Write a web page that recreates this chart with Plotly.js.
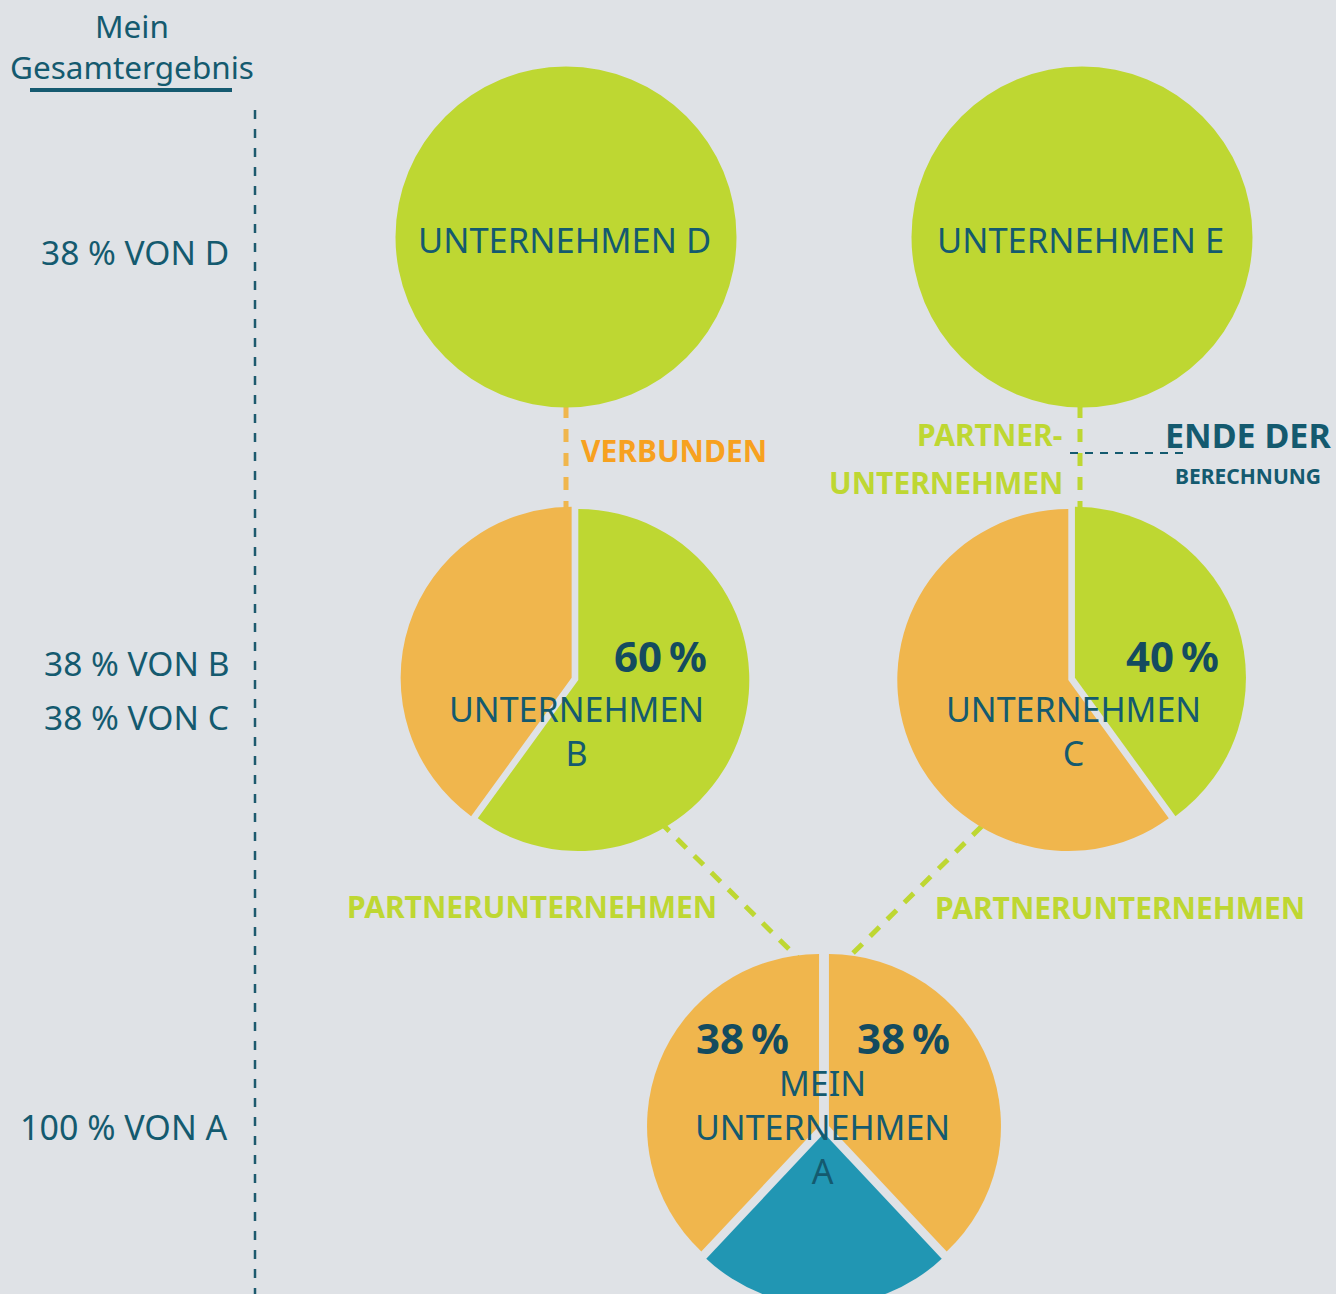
<!DOCTYPE html>
<html>
<head>
<meta charset="utf-8">
<script src="https://cdn.plot.ly/plotly-3.0.1.min.js"></script>
<style>
  html, body { margin: 0; padding: 0; overflow: hidden; background: #dfe2e6; }
  #chart { width: 1336px; height: 1310px; }
</style>
</head>
<body>
<div id="chart"></div>
<script>
// ---------- data ----------
const companyNames = ['UNTERNEHMEN D', 'UNTERNEHMEN E', 'UNTERNEHMEN<br>B', 'UNTERNEHMEN<br>C', 'MEIN<br>UNTERNEHMEN<br>A'];
const sharesD = [100];
const sharesE = [100];
const sharesB = [60, 40];            // green (partner part), orange (rest)
const sharesC = [40, 60];            // green (partner part), orange (rest)
const sharesA = [38, 24, 38];        // orange (B), teal (own), orange (C)
const sliceNamesB = ['Anteil 60 %', 'Rest'];
const sliceNamesC = ['Anteil 40 %', 'Rest'];
const sliceNamesA = ['38 % von B', 'Eigen', '38 % von C'];
const leftLabels = ['38 % VON D', '38 % VON B', '38 % VON C', '100 % VON A'];
const relationLabels = ['VERBUNDEN', 'PARTNER-', 'UNTERNEHMEN', 'PARTNERUNTERNEHMEN', 'PARTNERUNTERNEHMEN'];
const endLabels = ['ENDE DER', 'BERECHNUNG'];
const headerLines = ['Mein', 'Gesamtergebnis'];

// ---------- style ----------
const W = 1336, H = 1310;
const BG = '#dfe2e6';
const GREEN = '#bed732';
const ORANGE = '#f0b64d';
const TEAL = '#2196b3';
const TXT = '#145a6f';
const DARK = '#144b5f';
const ORANGE_TXT = '#f7a11f';
const FONT = 'Noto Sans, Open Sans, sans-serif';

function domainFor(cx, cy, r) {
  return { x: [(cx - r) / W, (cx + r) / W], y: [1 - (cy + r) / H, 1 - (cy - r) / H] };
}
function pie(values, labels, colors, pull, cx, cy, r) {
  const maxPull = Math.max(0, ...(Array.isArray(pull) ? pull : [pull]));
  return {
    type: 'pie', values: values, labels: labels, sort: false, direction: 'clockwise', rotation: 0,
    marker: { colors: colors, line: { width: 0 } }, pull: pull, textinfo: 'none', hoverinfo: 'skip',
    showlegend: false, domain: domainFor(cx, cy, r * (1 + maxPull))
  };
}

const traces = [
  pie(sharesD, ['D'], [GREEN], 0, 566, 237, 170.5),
  pie(sharesE, ['E'], [GREEN], 0, 1082, 237, 170.5),
  pie(sharesB, sliceNamesB, [GREEN, ORANGE], [0, 0.041], 578.3, 680, 171),
  pie(sharesC, sliceNamesC, [GREEN, ORANGE], [0.041, 0], 1068.3, 680, 171),
  pie(sharesA, sliceNamesA, [ORANGE, TEAL, ORANGE], [0.031, 0.031, 0.031], 824, 1128, 172)
];

function ann(text, x, y, size, color, opts) {
  return Object.assign({
    text: text, x: x, y: y, xref: 'x', yref: 'y', showarrow: false,
    xanchor: 'center', yanchor: 'middle',
    font: { family: FONT, size: size, color: color }
  }, opts || {});
}
const bold = t => '<b>' + t + '</b>';

const annotations = [
  ann(headerLines[0], 132, 25, 31.5, TXT),
  ann(headerLines[1], 132, 66, 31.5, TXT),
  ann(leftLabels[0], 231, 252, 33.5, TXT, { xanchor: 'right' }),
  ann(leftLabels[1], 231, 663, 33.5, TXT, { xanchor: 'right' }),
  ann(leftLabels[2], 231, 717, 33.5, TXT, { xanchor: 'right' }),
  ann(leftLabels[3], 230, 1127, 34, TXT, { xanchor: 'right' }),
  ann(companyNames[0], 564, 239, 34.5, TXT),
  ann(companyNames[1], 1080, 239, 34.5, TXT),
  ann(companyNames[2], 576, 731, 34, TXT),
  ann(companyNames[3], 1073, 731, 34, TXT),
  ann(companyNames[4], 822, 1127, 34, TXT),
  ann(bold(sharesB[0] + '\u2009%'), 660, 655, 42, DARK),
  ann(bold(sharesC[0] + '\u2009%'), 1172, 655, 42, DARK),
  ann(bold(sharesA[0] + '\u2009%'), 742, 1037, 42, DARK),
  ann(bold(sharesA[2] + '\u2009%'), 903, 1037, 42, DARK),
  ann(bold(relationLabels[0]), 674, 450, 30, ORANGE_TXT),
  ann(bold(relationLabels[1]), 1064, 434, 30, GREEN, { xanchor: 'right' }),
  ann(bold(relationLabels[2]), 1065, 482, 30, GREEN, { xanchor: 'right' }),
  ann(bold(relationLabels[3]), 532, 906, 30, GREEN),
  ann(bold(relationLabels[4]), 1120, 907, 30, GREEN),
  ann(bold(endLabels[0]), 1248, 435, 34, TXT),
  ann(bold(endLabels[1]), 1248, 476, 21, TXT)
];

function seg(x0, y0, x1, y1, color, width, dash) {
  return { type: 'line', xref: 'x', yref: 'y', x0: x0, y0: y0, x1: x1, y1: y1, layer: 'below',
           line: { color: color, width: width, dash: dash || 'solid' } };
}
const shapes = [
  seg(30, 90, 232, 90, '#155a70', 4),
  seg(255, 110, 255, 1310, '#1d5a6e', 2.5, '9px,10px'),
  seg(566, 405, 566, 510, ORANGE, 5, '13px,11px'),
  seg(1080, 405, 1080, 512, GREEN, 5, '13px,11px'),
  seg(1070, 453, 1188, 453, TXT, 2, '8px,7px'),
  seg(660, 822, 800, 960, GREEN, 5, '13px,11px'),
  seg(982, 826, 846, 960, GREEN, 5, '13px,11px')
];

const layout = {
  width: W, height: H,
  margin: { l: 0, r: 0, t: 0, b: 0, pad: 0 },
  paper_bgcolor: BG, plot_bgcolor: 'rgba(0,0,0,0)',
  xaxis: { range: [0, W], visible: false, fixedrange: true },
  yaxis: { range: [H, 0], visible: false, fixedrange: true },
  showlegend: false,
  annotations: annotations,
  shapes: shapes
};

Plotly.newPlot('chart', traces, layout, { staticPlot: true, displayModeBar: false });
</script>
</body>
</html>
